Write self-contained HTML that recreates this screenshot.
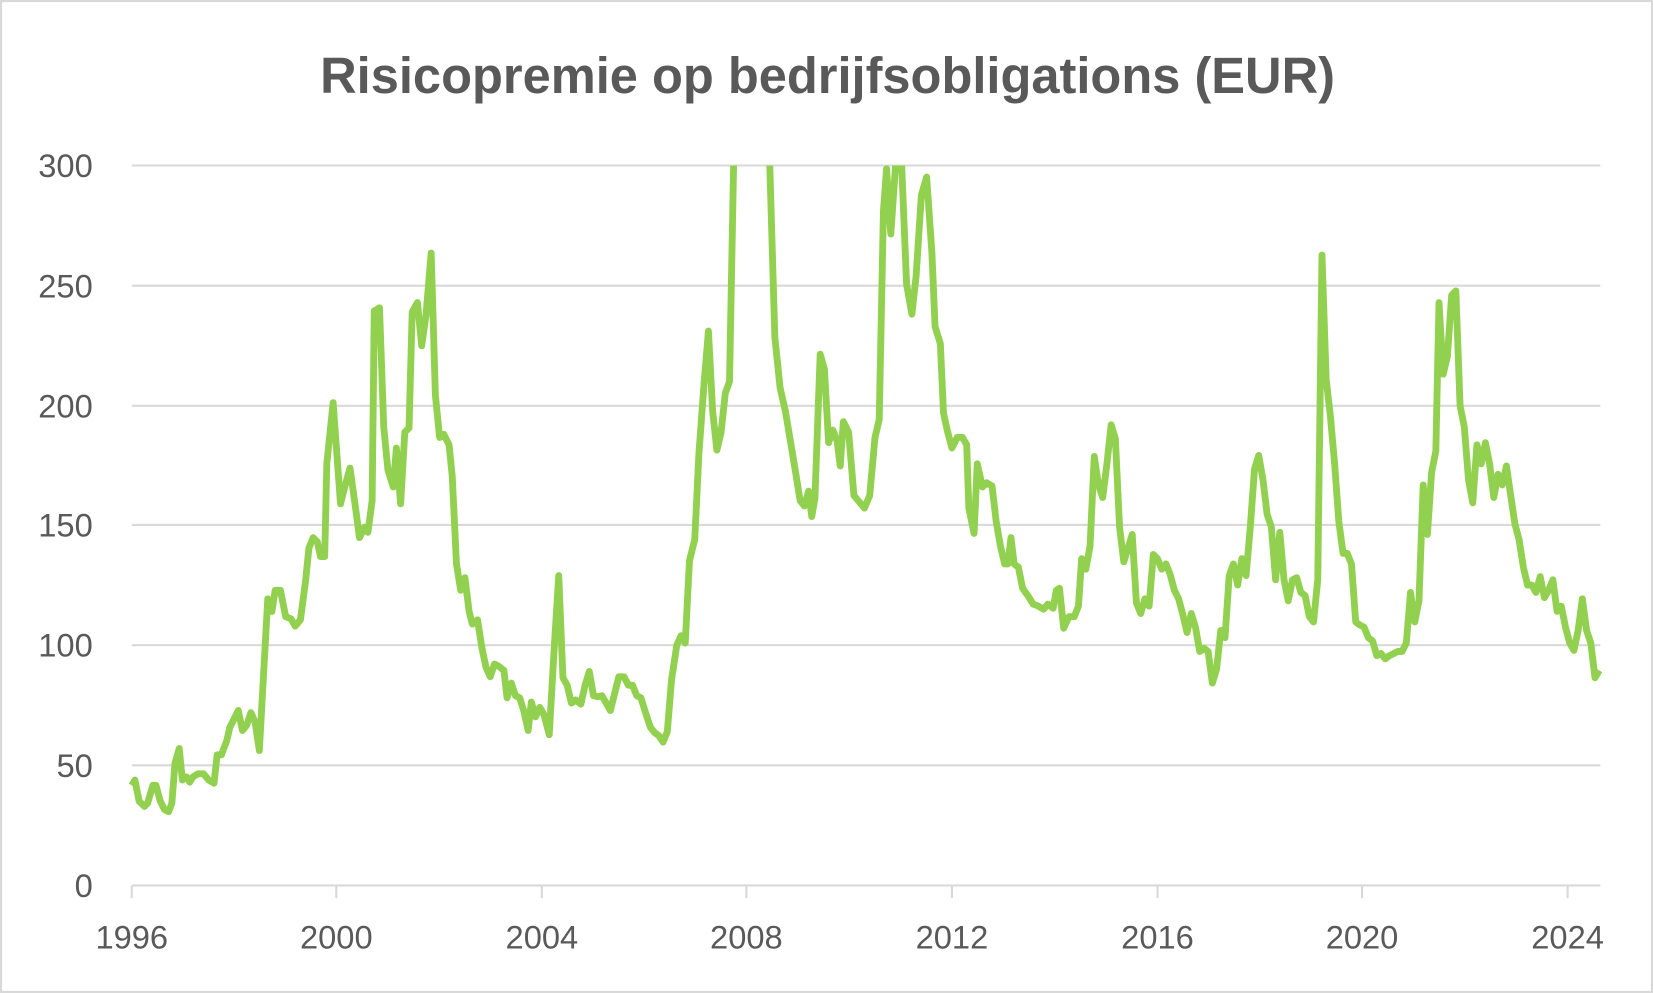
<!DOCTYPE html>
<html><head><meta charset="utf-8"><style>html,body{margin:0;padding:0;background:#fff}svg{display:block}</style></head>
<body>
<svg width="1653" height="993" viewBox="0 0 1568 942" preserveAspectRatio="none" xmlns="http://www.w3.org/2000/svg">
<rect x="1" y="1" width="1566" height="940" fill="#fff" stroke="#d9d9d9" stroke-width="2"/>
<text x="785" y="88" text-anchor="middle" font-family="Liberation Sans, sans-serif" font-weight="bold" font-size="48" fill="#595959">Risicopremie op bedrijfsobligations (EUR)</text>
<g stroke="#d9d9d9" stroke-width="2">
<line x1="125" y1="157" x2="1518" y2="157"/><line x1="125" y1="271" x2="1518" y2="271"/><line x1="125" y1="385" x2="1518" y2="385"/><line x1="125" y1="498" x2="1518" y2="498"/><line x1="125" y1="612" x2="1518" y2="612"/><line x1="125" y1="726" x2="1518" y2="726"/><line x1="125" y1="840" x2="1518" y2="840"/>
<line x1="125" y1="840" x2="125" y2="852"/><line x1="319" y1="840" x2="319" y2="852"/><line x1="514" y1="840" x2="514" y2="852"/><line x1="708" y1="840" x2="708" y2="852"/><line x1="903" y1="840" x2="903" y2="852"/><line x1="1098" y1="840" x2="1098" y2="852"/><line x1="1292" y1="840" x2="1292" y2="852"/><line x1="1487" y1="840" x2="1487" y2="852"/>
</g>
<g font-family="Liberation Sans, sans-serif" font-size="31" fill="#595959" text-anchor="end">
<text x="88" y="168">300</text><text x="88" y="282">250</text><text x="88" y="396">200</text><text x="88" y="509">150</text><text x="88" y="623">100</text><text x="88" y="737">50</text><text x="88" y="851">0</text>
</g>
<g font-family="Liberation Sans, sans-serif" font-size="31" fill="#595959" text-anchor="middle">
<text x="125" y="900">1996</text><text x="319" y="900">2000</text><text x="514" y="900">2004</text><text x="708" y="900">2008</text><text x="903" y="900">2012</text><text x="1098" y="900">2016</text><text x="1292" y="900">2020</text><text x="1487" y="900">2024</text>
</g>
<svg x="0" y="157" width="1568" height="785" viewBox="0 157 1568 785" overflow="hidden">
<polyline fill="none" stroke="#92D050" stroke-width="6.5" stroke-linejoin="round" points="125,745 128,740 132,760 137,765 140,762 145,745 148,745 152,760 156,768 160,770 163,762 166,724 170,710 173,740 177,737 180,742 183,737 188,734 193,734 198,740 203,743 206,716 210,716 215,703 218,690 222,682 226,674 230,693 234,688 238,676 242,685 246,712 250,640 254,568 258,580 261,560 266,560 271,585 276,587 280,594 285,588 290,550 293,520 297,510 301,514 304,528 308,528 310,440 316,382 323,478 327,462 332,444 337,480 341,510 346,500 349,505 353,475 355,295 360,292 364,405 368,446 373,462 376,425 380,478 384,410 388,406 391,296 396,287 400,328 404,300 409,240 413,375 417,415 421,412 426,422 429,452 433,535 437,560 441,548 445,580 448,592 453,588 457,614 461,633 465,642 469,630 473,632 478,636 481,662 485,648 489,660 493,662 497,675 501,693 504,666 508,680 512,671 516,678 521,697 526,610 530,546 534,643 538,650 542,667 546,664 551,668 555,650 559,637 563,660 567,661 571,660 575,667 579,674 583,658 587,642 592,642 596,650 600,650 604,660 608,662 612,675 617,690 621,695 625,698 629,704 633,694 637,645 642,612 646,603 650,610 654,532 659,512 663,430 668,362 672,314 676,390 680,427 684,410 688,373 692,362 696,150 730,150 735,320 740,368 745,390 750,420 755,450 759,475 763,480 767,466 770,490 773,473 778,336 782,350 786,420 790,408 794,418 797,442 800,400 805,410 810,470 815,476 820,482 825,470 830,415 834,398 838,200 841,160 845,222 850,150 855,150 860,270 865,298 869,262 874,185 879,168 884,240 887,310 892,326 895,392 899,410 903,425 908,415 913,415 917,422 919,482 924,506 927,440 932,462 936,458 941,461 945,495 949,518 953,535 956,535 959,510 962,535 966,538 970,558 975,565 980,573 985,575 990,578 994,573 999,577 1002,560 1005,558 1009,596 1014,585 1019,585 1023,575 1026,530 1030,540 1034,518 1038,433 1042,460 1046,472 1050,440 1054,403 1058,416 1062,500 1066,533 1070,520 1074,507 1078,572 1082,582 1086,568 1090,575 1094,526 1098,530 1102,540 1106,535 1110,545 1114,560 1118,568 1122,583 1126,600 1130,582 1134,595 1138,618 1142,615 1146,618 1150,648 1154,635 1158,598 1162,605 1166,546 1170,535 1174,555 1178,530 1182,546 1186,500 1190,445 1194,432 1198,455 1202,488 1206,500 1210,550 1214,505 1218,550 1222,570 1226,550 1230,548 1234,562 1238,565 1242,585 1246,590 1250,550 1254,242 1258,360 1262,395 1266,440 1270,495 1274,525 1278,525 1282,535 1286,590 1290,593 1294,595 1298,605 1302,608 1306,622 1310,620 1314,625 1318,622 1322,620 1326,618 1330,618 1334,610 1338,562 1342,590 1346,570 1350,460 1354,507 1358,448 1362,428 1365,287 1369,355 1373,338 1377,280 1381,276 1385,385 1389,405 1393,455 1397,477 1401,422 1405,440 1409,420 1413,440 1417,472 1421,450 1425,460 1429,442 1433,470 1437,497 1441,512 1445,538 1449,555 1453,555 1457,562 1461,547 1465,567 1469,560 1473,550 1477,580 1481,575 1485,595 1489,610 1493,617 1497,598 1501,568 1505,598 1509,610 1513,643 1517,636"/>
</svg>
</svg>
</body></html>
